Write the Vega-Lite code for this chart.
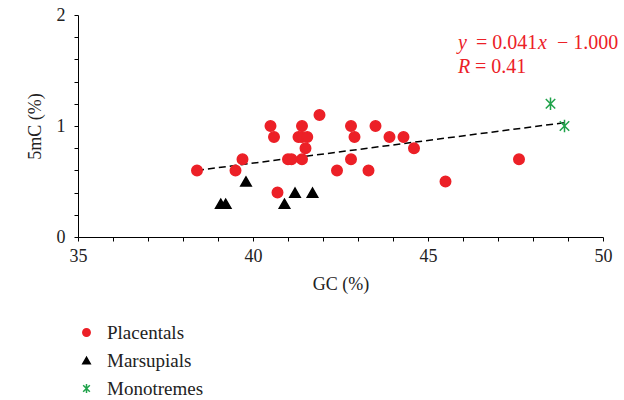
{
  "$schema": "https://vega.github.io/schema/vega-lite/v6.json",
  "width": 525,
  "height": 222,
  "autosize": {"type": "none"},
  "padding": {"left": 78, "top": 15, "right": 21, "bottom": 163},
  "background": "white",
  "config": {
    "view": {"stroke": null},
    "font": "Liberation Serif",
    "legend": {"labelFont": "Liberation Serif", "titleFont": "Liberation Serif"},
    "axis": {"grid": false, "domainColor": "black", "tickColor": "black", "labelColor": "#222", "titleColor": "#222", "labelFont": "Liberation Serif", "titleFont": "Liberation Serif", "labelFontSize": 18, "titleFontSize": 18, "titleFontWeight": "normal", "tickSize": 4, "domainWidth": 1, "tickWidth": 1, "labelOverlap": false, "labelFlush": false, "labelBound": false}
  },
  "datasets": {
    "points": [
      {"GC": 38.4, "mC": 0.6, "group": "Placentals"},
      {"GC": 39.5, "mC": 0.6, "group": "Placentals"},
      {"GC": 39.7, "mC": 0.7, "group": "Placentals"},
      {"GC": 40.5, "mC": 1.0, "group": "Placentals"},
      {"GC": 40.6, "mC": 0.9, "group": "Placentals"},
      {"GC": 40.7, "mC": 0.4, "group": "Placentals"},
      {"GC": 41.0, "mC": 0.7, "group": "Placentals"},
      {"GC": 41.1, "mC": 0.7, "group": "Placentals"},
      {"GC": 41.3, "mC": 0.9, "group": "Placentals"},
      {"GC": 41.4, "mC": 0.9, "group": "Placentals"},
      {"GC": 41.55, "mC": 0.9, "group": "Placentals"},
      {"GC": 41.4, "mC": 1.0, "group": "Placentals"},
      {"GC": 41.4, "mC": 0.7, "group": "Placentals"},
      {"GC": 41.5, "mC": 0.8, "group": "Placentals"},
      {"GC": 41.9, "mC": 1.1, "group": "Placentals"},
      {"GC": 42.4, "mC": 0.6, "group": "Placentals"},
      {"GC": 42.8, "mC": 1.0, "group": "Placentals"},
      {"GC": 42.9, "mC": 0.9, "group": "Placentals"},
      {"GC": 42.8, "mC": 0.7, "group": "Placentals"},
      {"GC": 43.3, "mC": 0.6, "group": "Placentals"},
      {"GC": 43.5, "mC": 1.0, "group": "Placentals"},
      {"GC": 43.9, "mC": 0.9, "group": "Placentals"},
      {"GC": 44.3, "mC": 0.9, "group": "Placentals"},
      {"GC": 44.6, "mC": 0.8, "group": "Placentals"},
      {"GC": 45.5, "mC": 0.5, "group": "Placentals"},
      {"GC": 47.6, "mC": 0.7, "group": "Placentals"},
      {"GC": 39.08, "mC": 0.3, "group": "Marsupials"},
      {"GC": 39.22, "mC": 0.3, "group": "Marsupials"},
      {"GC": 39.8, "mC": 0.5, "group": "Marsupials"},
      {"GC": 40.9, "mC": 0.3, "group": "Marsupials"},
      {"GC": 41.2, "mC": 0.4, "group": "Marsupials"},
      {"GC": 41.7, "mC": 0.4, "group": "Marsupials"},
      {"GC": 48.5, "mC": 1.2, "group": "Monotremes"},
      {"GC": 48.9, "mC": 1.0, "group": "Monotremes"}
    ],
    "trend": [
      {"GC": 38.4, "mC": 0.6},
      {"GC": 48.9, "mC": 1.03}
    ],
    "labels": [
      {"GC": 45.857, "mC": 1.691, "txt": "y", "kind": "italic"},
      {"GC": 46.371, "mC": 1.691, "txt": "= 0.041", "kind": "upright"},
      {"GC": 48.143, "mC": 1.691, "txt": "x", "kind": "italic"},
      {"GC": 48.686, "mC": 1.691, "txt": "− 1.000", "kind": "upright"},
      {"GC": 45.857, "mC": 1.475, "txt": "R", "kind": "italic"},
      {"GC": 46.343, "mC": 1.475, "txt": "= 0.41", "kind": "upright"}
    ]
  },
  "layer": [
    {
      "data": {"name": "trend"},
      "mark": {"type": "line", "color": "black", "strokeWidth": 1.5, "strokeDash": [7, 4]},
      "encoding": {
        "x": {"field": "GC", "type": "quantitative", "scale": {"domain": [35, 50], "nice": false, "zero": false},
          "axis": {"title": "GC (%)", "values": [35,36,37,38,39,40,41,42,43,44,45,46,47,48,49,50], "tickCount": 100, "labelExpr": "datum.value % 5 === 0 ? '' + datum.value : ''", "labelOverlap": false, "labelFlush": false, "labelPadding": 6, "titlePadding": 10}},
        "y": {"field": "mC", "type": "quantitative", "scale": {"domain": [0, 2], "nice": false},
          "axis": {"title": "5mC (%)", "values": [0,0.2,0.4,0.6,0.8,1,1.2,1.4,1.6,1.8,2], "tickCount": 100, "labelExpr": "datum.value % 1 === 0 ? '' + datum.value : ''", "labelOverlap": false, "labelFlush": false, "labelPadding": 9, "titlePadding": 12}}
      }
    },
    {
      "data": {"name": "points"},
      "mark": {"type": "point", "filled": false, "strokeWidth": 1.5, "opacity": 1},
      "encoding": {
        "x": {"field": "GC", "type": "quantitative"},
        "y": {"field": "mC", "type": "quantitative"},
        "shape": {"field": "group", "type": "nominal", "title": null,
          "scale": {"domain": ["Placentals", "Marsupials", "Monotremes"], "range": ["circle", "triangle-up", "M-0.9,-0.9L0.9,0.9M-0.9,0.9L0.9,-0.9M0,-1.2L0,1.2"]}},
        "stroke": {"field": "group", "type": "nominal", "title": null,
          "scale": {"domain": ["Placentals", "Marsupials", "Monotremes"], "range": ["#ec2027", "#000000", "#1fa24a"]}},
        "fill": {"field": "group", "type": "nominal", "title": null,
          "scale": {"domain": ["Placentals", "Marsupials", "Monotremes"], "range": ["#ec2027", "#000000", "transparent"]},
          "legend": {"orient": "none", "legendX": -1, "legendY": 308, "padding": 0, "labelFont": "Liberation Serif", "labelFontSize": 19, "labelColor": "#222", "symbolSize": 55, "symbolStrokeWidth": 1.5, "labelOffset": 11, "rowPadding": 8,
            "labelExpr": "datum.label",
            "encode": {"labels": {"update": {"font": {"value": "Liberation Serif"}, "fontSize": {"value": 19}}}}}},
        "size": {"value": 110}
      }
    },
    {
      "data": {"name": "labels"},
      "transform": [{"filter": "datum.kind === 'italic'"}],
      "mark": {"type": "text", "align": "left", "baseline": "alphabetic", "fontStyle": "italic", "fontSize": 20, "color": "#ec2027", "font": "Liberation Serif"},
      "encoding": {
        "x": {"field": "GC", "type": "quantitative"},
        "y": {"field": "mC", "type": "quantitative"},
        "text": {"field": "txt"}
      }
    },
    {
      "data": {"name": "labels"},
      "transform": [{"filter": "datum.kind === 'upright'"}],
      "mark": {"type": "text", "align": "left", "baseline": "alphabetic", "fontSize": 20, "color": "#ec2027", "font": "Liberation Serif"},
      "encoding": {
        "x": {"field": "GC", "type": "quantitative"},
        "y": {"field": "mC", "type": "quantitative"},
        "text": {"field": "txt"}
      }
    }
  ]
}
